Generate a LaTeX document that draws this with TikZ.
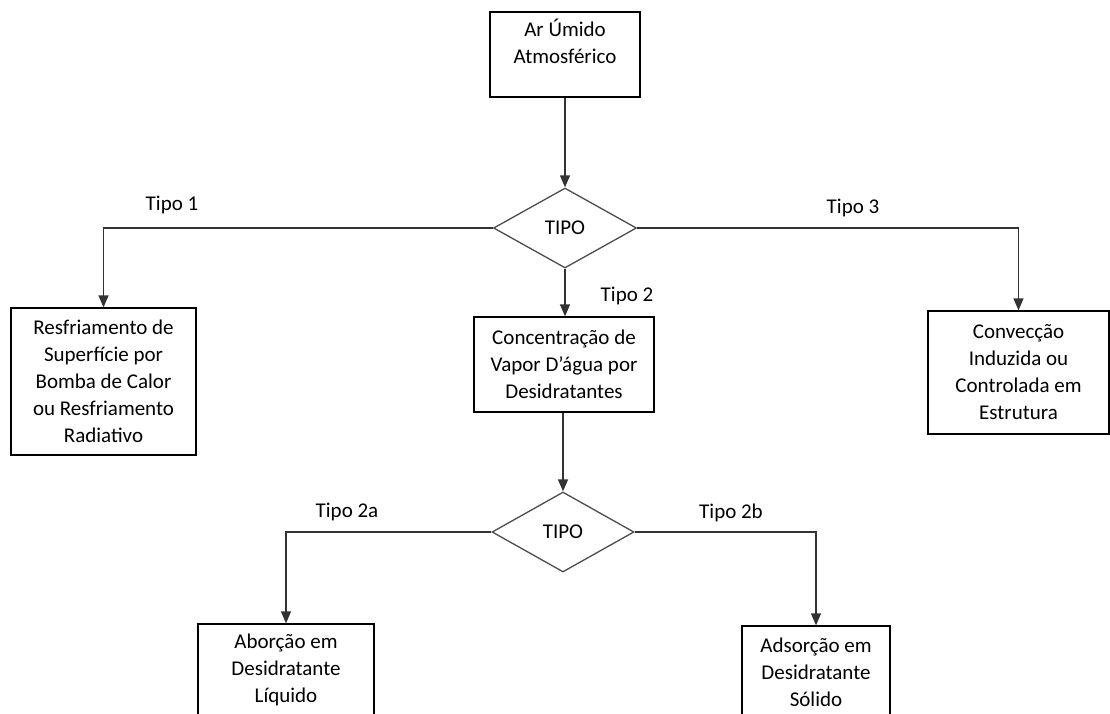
\documentclass[tikz,border=0pt]{standalone}
\usepackage{fontspec}
\setmainfont{Carlito}
\usetikzlibrary{shapes.geometric,arrows.meta}
\begin{document}
\begin{tikzpicture}[x=1pt,y=-1pt,
  box/.style={draw=black,line width=1.3pt,rectangle,inner sep=0pt,align=center,
    font=\fontsize{21}{27}\selectfont},
  dia/.style={draw=black!70,line width=1.3pt,diamond,inner sep=0pt,
    minimum width=143pt,minimum height=80pt,font=\fontsize{21}{27}\selectfont},
  lbl/.style={font=\fontsize{21}{27}\selectfont,inner sep=0pt},
  conn/.style={draw=black!80,line width=1.3pt},
  arr/.style={conn,-{Triangle[length=12pt,width=10pt]}}]
\useasboundingbox (0,0) rectangle (1110,713);
\node[box,minimum width=150pt,minimum height=85pt] (top) at (565,54.5) {Ar Úmido\\Atmosférico\\\mbox{}};
\node[dia] (d1) at (565,228) {TIPO};
\node[box,minimum width=185pt,minimum height=147pt] (lb) at (103.5,381.5) {Resfriamento de\\Superfície por\\Bomba de Calor\\ou Resfriamento\\Radiativo};
\node[box,minimum width=180pt,minimum height=95pt] (mb) at (564,364.5) {Concentração de\\Vapor D'água por\\Desidratantes};
\node[box,minimum width=181pt,minimum height=123pt] (rb) at (1018.5,372.5) {Convecção\\Induzida ou\\Controlada em\\Estrutura};
\node[dia,minimum width=142pt] (d2) at (563,532) {TIPO};
\node[box,minimum width=176pt,minimum height=92pt] (bl) at (286,670) {Aborção em\\Desidratante\\Líquido};
\node[box,minimum width=148pt,minimum height=92pt] (br) at (816,672) {Adsorção em\\Desidratante\\Sólido};
\draw[arr] (top.south) -- (d1.north);
\draw[arr] (d1.west) -| (lb.north);
\draw[arr] (d1.east) -| (rb.north);
\draw[arr] (d1.south) -- (d1.south |- mb.north);
\draw[arr] (mb.south -| d2.north) -- (d2.north);
\draw[arr] (d2.west) -| (bl.north);
\draw[arr] (d2.east) -| (br.north);
\node[lbl] (t1) at (172,205) {Tipo 1};
\node[lbl] (t3) at (853,208) {Tipo 3};
\node[lbl] (t2) at (627,296) {Tipo 2};
\node[lbl] (t2a) at (347,512) {Tipo 2a};
\node[lbl] (t2b) at (731,513) {Tipo 2b};
\end{tikzpicture}
\end{document}
